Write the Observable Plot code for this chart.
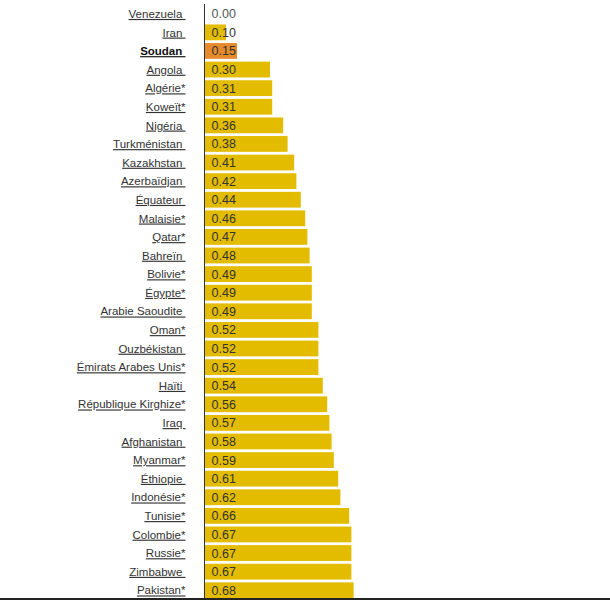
<!DOCTYPE html>
<html><head><meta charset="utf-8">
<script src="https://cdn.jsdelivr.net/npm/d3@7"></script>
<script src="https://cdn.jsdelivr.net/npm/@observablehq/plot@0.6"></script>
<style>
html,body{margin:0;padding:0;background:#fff;}
#wrap{position:relative;width:610px;height:600px;overflow:hidden;}
#wrap svg{display:block;}
#chart text.ul{text-decoration:underline;}
#bottomline{position:absolute;left:0;top:598px;width:610px;height:2px;background:#222;}
</style></head><body><div id="wrap"><div id="chart"></div><div id="bottomline"></div></div>
<script>
const countries = ["Venezuela","Iran","Soudan","Angola","Algérie*","Koweït*","Nigéria","Turkménistan","Kazakhstan","Azerbaïdjan","Équateur","Malaisie*","Qatar*","Bahreïn","Bolivie*","Égypte*","Arabie Saoudite","Oman*","Ouzbékistan","Émirats Arabes Unis*","Haïti","République Kirghize*","Iraq","Afghanistan","Myanmar*","Éthiopie","Indonésie*","Tunisie*","Colombie*","Russie*","Zimbabwe","Pakistan*"];
const values = [0.00,0.10,0.15,0.30,0.31,0.31,0.36,0.38,0.41,0.42,0.44,0.46,0.47,0.48,0.49,0.49,0.49,0.52,0.52,0.52,0.54,0.56,0.57,0.58,0.59,0.61,0.62,0.66,0.67,0.67,0.67,0.68];
const highlight = "Soudan";
const barColor = "#e3bc00";
const highlightColor = "#e68a2e";

const data = countries.map((c, i) => ({country: c, value: values[i]}));
const label = d => d.country.endsWith("*") ? d.country : d.country + "\u00a0";
const isHi = d => d.country === highlight;

const chart = Plot.plot({
  width: 610, height: 600,
  marginTop: 4, marginBottom: 0, marginLeft: 204, marginRight: 186,
  style: {fontFamily: "'Liberation Sans', Arial, sans-serif", background: "#fff"},
  x: {domain: [0, 1], axis: null},
  y: {domain: countries, axis: null, paddingInner: 0.15, paddingOuter: 0.1, round: false},
  marks: [
    Plot.barX(data.filter(d => !isHi(d)), {x: "value", y: "country", fill: barColor}),
    Plot.barX(data.filter(isHi), {x: "value", y: "country", fill: highlightColor}),
    Plot.text(data, {x: 0, y: "country", text: d => d.value.toFixed(2), dx: 7, textAnchor: "start", fill: d => d.value === 0 ? "#555" : "#333", fontSize: 12.5}),
    Plot.text(data.filter(d => !isHi(d)), {x: 0, y: "country", text: label, dx: -19, textAnchor: "end", fill: "#333", fontSize: 11.5}),
    Plot.text(data.filter(isHi), {x: 0, y: "country", text: label, dx: -19, textAnchor: "end", fill: "#111", fontSize: 11.5, fontWeight: "bold"}),
    Plot.ruleX([0], {stroke: "#333", strokeWidth: 1})
  ]
});
const labelTexts = new Set(data.map(label));
d3.select(chart).selectAll("text").each(function() {
  if (labelTexts.has(this.textContent)) {
    this.setAttribute("class", "ul");
    this.style.textDecoration = "underline";
  }
});
document.getElementById("chart").appendChild(chart);
</script>
</body></html>
